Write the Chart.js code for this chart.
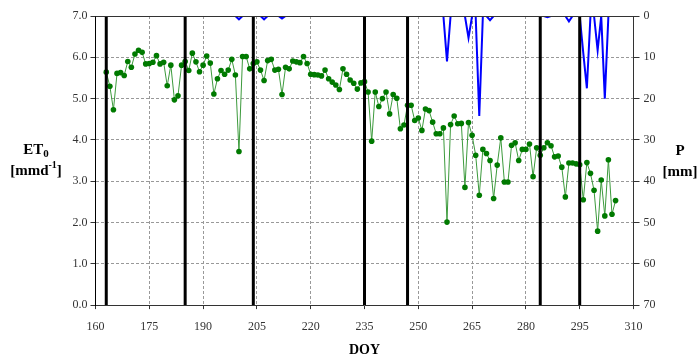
<!DOCTYPE html>
<html><head><meta charset="utf-8">
<script src="https://cdn.jsdelivr.net/npm/chart.js@4.4.1/dist/chart.umd.min.js"></script>
<style>html,body{margin:0;padding:0;background:#fff;}</style>
</head><body>
<canvas id="c" width="698" height="356"></canvas>
<script>
// ---- data ----
const firstDOY = 163; // daily series start (day of year)
const et0 = [
  5.64,5.30,4.73,5.61,5.63,5.56,5.90,5.76,6.08,6.17,
  6.12,5.84,5.85,5.88,6.04,5.84,5.88,5.31,5.81,4.97,
  5.07,5.81,5.90,5.68,6.10,5.89,5.65,5.81,6.03,5.86,
  5.11,5.48,5.68,5.59,5.69,5.95,5.57,3.72,6.02,6.02,
  5.72,5.85,5.89,5.69,5.44,5.92,5.95,5.69,5.71,5.10,
  5.76,5.72,5.91,5.89,5.87,6.02,5.85,5.59,5.58,5.57,
  5.55,5.69,5.48,5.40,5.33,5.22,5.72,5.59,5.45,5.37,
  5.23,5.38,5.41,5.16,3.97,5.16,4.81,5.00,5.16,4.63,
  5.10,5.01,4.27,4.36,4.84,4.84,4.47,4.53,4.23,4.75,
  4.71,4.43,4.15,4.15,4.29,2.01,4.37,4.58,4.39,4.40,
  2.85,4.42,4.11,3.63,2.66,3.77,3.67,3.50,2.58,3.39,
  4.05,2.98,2.98,3.87,3.93,3.50,3.77,3.77,3.90,3.11,
  3.81,3.63,3.81,3.93,3.86,3.59,3.61,3.34,2.62,3.44,
  3.44,3.42,3.40,2.55,3.45,3.19,2.78,1.79,3.03,2.16,
  3.52,2.20,2.53
];
const precip = [
  0,0,0,0,0,0,0,0,0,0,
  0,0,0,0,0,0,0,0,0,0,
  0,0,0,0,0,0,0,0,0,0,
  0,0,0,0,0,0,0,0.8,0,0,
  0,0,0,0,0.8,0,0,0,0,0.6,
  0,0,0,0,0,0,0,0,0,0,
  0,0,0,0,0,0,0,0,0,0,
  0,0,0,0,0,0,0,0,0,0,
  0,0,0,0,0,0,0,0,0,0,
  0,0,0,0,0,11,0,0,0,0,
  0,5.3,0,0,24.2,0,0,1.0,0,0,
  0,0,0,0,0,0,0,0,0,0,
  0,0,0,0.3,0,0,0,0,0,1.3,
  0,0,0,9,17.5,0,0,8.3,0,20,
  0,0,0
];
const markerDOY = [163,185,204,235,247,284,295];
const xRange = [160,310,15];
const etRange = [0,7,1];
const pRange = [0,70,10];

// ---- build datasets ----
const etData = et0.map((v,i)=>({x:firstDOY+i,y:v}));
const pData = precip.map((v,i)=>({x:firstDOY+i,y:v}));
const serif = "'Times New Roman','Liberation Serif',serif";

const markerSets = markerDOY.map(d=>({
  type:'line', data:[{x:d,y:etRange[0]},{x:d,y:etRange[1]}], yAxisID:'y',
  borderColor:'#000', borderWidth:3, pointRadius:0, order:0
}));

function drawRich(ctx, parts, cx){
  let w=0;
  parts.forEach(p=>{ctx.font='bold '+p.size+'px '+serif; p.w=ctx.measureText(p.t).width; w+=p.w;});
  let x=cx-w/2;
  parts.forEach(p=>{ctx.font='bold '+p.size+'px '+serif; ctx.fillText(p.t,x,p.y); x+=p.w;});
}

const deco = {
  id:'deco',
  afterDatasetsDraw(chart){
    const {ctx, chartArea:a} = chart;
    ctx.save();
    ctx.strokeStyle='#333'; ctx.lineWidth=1;
    ctx.beginPath();
    const t=Math.round(a.top)+0.5;
    ctx.moveTo(a.left,t); ctx.lineTo(a.right,t); ctx.stroke();
    ctx.restore();
  },
  afterDraw(chart){
    const ctx=chart.ctx;
    ctx.save();
    ctx.fillStyle='#000'; ctx.textBaseline='alphabetic'; ctx.textAlign='left';
    drawRich(ctx,[{t:'ET',size:15,y:154},{t:'0',size:11,y:157}],36);
    drawRich(ctx,[{t:'[mmd',size:15,y:175},{t:'-1',size:10,y:168},{t:']',size:15,y:175}],36);
    drawRich(ctx,[{t:'P',size:15,y:155}],680);
    drawRich(ctx,[{t:'[mm]',size:15,y:176}],680);
    ctx.restore();
  }
};

new Chart(document.getElementById('c'),{
  data:{datasets:[
    ...markerSets,
    {type:'line', label:'P', data:pData, yAxisID:'y2', borderColor:'#0000ff', borderWidth:2,
     pointRadius:0, tension:0, order:1},
    {type:'line', label:'ET0', data:etData, yAxisID:'y', borderColor:'#3c9a3c', borderWidth:1,
     pointRadius:2.8, pointBackgroundColor:'#007a00', pointBorderColor:'#007a00', pointBorderWidth:0,
     tension:0, order:2}
  ]},
  options:{
    responsive:false, animation:false, devicePixelRatio:1,
    layout:{padding:{left:69.5,right:38.5,top:16,bottom:0}},
    plugins:{legend:{display:false}, tooltip:{enabled:false}},
    scales:{
      x:{type:'linear', min:xRange[0], max:xRange[1],
        ticks:{stepSize:xRange[2], color:'#333', font:{family:serif,size:12}, padding:11, maxRotation:0},
        grid:{color:'#999', tickColor:'#333', tickLength:4, tickBorderDash:[], lineWidth:1},
        border:{color:'#333', width:1, dash:[3,2]},
        title:{display:true, text:'DOY', color:'#000', font:{family:serif,size:14,weight:'bold',lineHeight:0.75}, padding:{top:0,bottom:0}}
      },
      y:{type:'linear', position:'left', min:etRange[0], max:etRange[1],
        ticks:{stepSize:etRange[2], color:'#333', font:{family:serif,size:12}, padding:3,
          callback:v=>Number(v).toFixed(1)},
        grid:{color:'#999', tickColor:'#333', tickLength:5, tickBorderDash:[]},
        border:{color:'#000', width:1, dash:[3,2]}
      },
      y2:{type:'linear', position:'right', reverse:true, min:pRange[0], max:pRange[1],
        ticks:{stepSize:pRange[2], color:'#333', font:{family:serif,size:12}, padding:4},
        grid:{drawOnChartArea:false, tickColor:'#333', tickLength:6},
        border:{color:'#333', width:1}
      }
    }
  },
  plugins:[deco]
});
</script>
</body></html>
